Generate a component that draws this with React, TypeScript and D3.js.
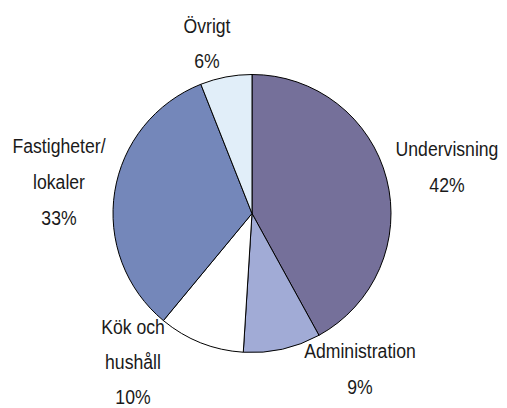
import React from "react";
import * as d3 from "d3";

const categories = ["Undervisning", "Administration", "Kök och hushåll", "Fastigheter/lokaler", "Övrigt"];
const values = [42, 9, 10, 33, 6];
const colors = ["#75709a", "#a1abd6", "#ffffff", "#7487ba", "#e1eef9"];
const labelLines = [
  ["Undervisning", "42%"],
  ["Administration", "9%"],
  ["Kök och", "hushåll", "10%"],
  ["Fastigheter/", "lokaler", "33%"],
  ["Övrigt", "6%"],
];
// label anchor positions (center x, first baseline y, line spacing)
const labelPos = [
  [447, 156, 36],
  [360, 358, 36],
  [133, 334, 35],
  [59, 153, 36],
  [207, 33, 35],
];

export default function App() {
  const W = 507, H = 408;
  const cx = 252, cy = 213.5, r = 139;
  const pie = d3.pie<number>().sort(null).value((d) => d)(values);
  const arc = d3.arc<d3.PieArcDatum<number>>().innerRadius(0).outerRadius(r);
  const fs = 21, sx = 0.84;
  return (
    <svg width={W} height={H} style={{ position: "absolute", left: 0, top: 0 }}>
      <rect width={W} height={H} fill="#fff" />
      <g transform={`translate(${cx},${cy})`}>
        {pie.map((p, i) => (
          <path key={categories[i]} d={arc(p) || ""} fill={colors[i]} stroke="#000" strokeWidth={1} strokeLinejoin="round" />
        ))}
      </g>
      {labelLines.map((lines, i) => (
        <g key={i} transform={`translate(${labelPos[i][0]},${labelPos[i][1]}) scale(${sx},1)`}>
          {lines.map((t, j) => (
            <text key={j} x={0} y={j * labelPos[i][2]} textAnchor="middle" fontFamily="Liberation Sans, Arial, sans-serif" fontSize={fs} fill="#1a1a1a">
              {t}
            </text>
          ))}
        </g>
      ))}
    </svg>
  );
}
